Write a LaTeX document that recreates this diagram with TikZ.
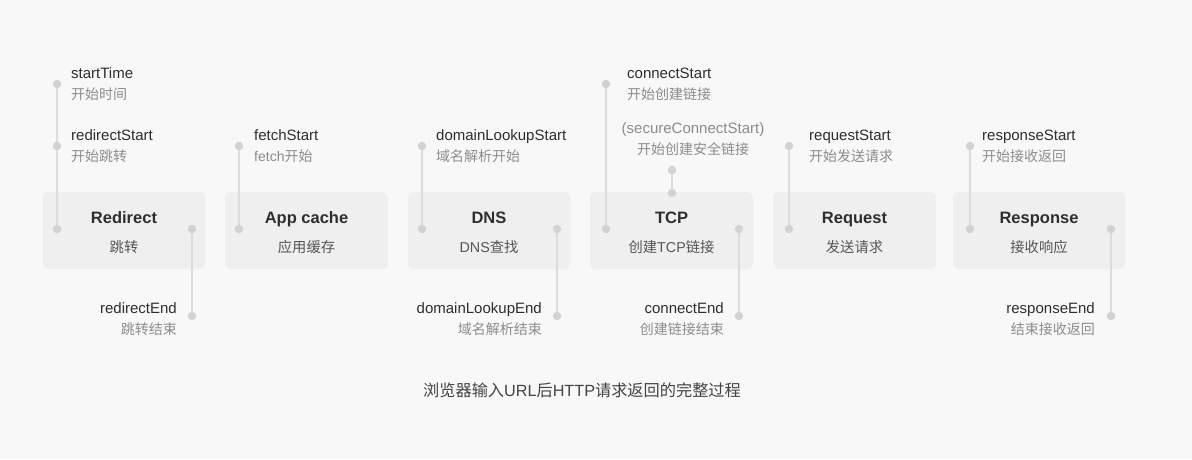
\documentclass[tikz,border=0pt]{standalone}
\usepackage{fontspec}
\setmainfont{Liberation Sans}
\newfontfamily\cjk{Noto Sans CJK SC}
\definecolor{bgc}{HTML}{F8F8F8}
\definecolor{boxfill}{HTML}{EFEFEF}
\definecolor{dotc}{HTML}{D2D2D2}
\definecolor{linec}{HTML}{DCDCDC}
\definecolor{ink}{HTML}{2E2E2E}
\definecolor{subink}{HTML}{555555}
\definecolor{noteink}{HTML}{8C8C8C}
\tikzset{
	stage/.style={fill=boxfill, rounded corners=6pt, minimum height=77pt, inner sep=0pt},
	dot/.style={circle, fill=dotc, minimum size=8.5pt, inner sep=0pt},
	tick/.style={draw=linec, line width=1.4pt},
	stagetitle/.style={inner sep=0pt, anchor=base, text=ink, font=\fontsize{16.5}{19}\selectfont\bfseries},
	stagesub/.style={inner sep=0pt, text=subink, font=\fontsize{14.3}{17}\selectfont\cjk},
	evname/.style={inner sep=0pt, text=ink, font=\fontsize{15}{18}\selectfont},
	cnname/.style={inner sep=0pt, text=noteink, font=\fontsize{14}{17}\selectfont\cjk}}

\begin{document}
\begin{tikzpicture}[x=1pt,y=-1pt]
\fill[bgc] (0,0) rectangle (1192,459);
\useasboundingbox (0,0) rectangle (1192,459);

% stages
\foreach \n/\cx/\w/\t/\s in {
	redirect/124/162/Redirect/跳转,
	appcache/306.5/163/App cache/应用缓存,
	dns/489/162/DNS/{{\rmfamily DNS}查找},
	tcp/671.5/163/TCP/{创建{\rmfamily TCP}链接},
	request/854.5/163/Request/发送请求,
	response/1039/172/Response/接收响应}
{
	\node[stage, minimum width=\w pt] (\n) at (\cx,230.5) {};
	\node[stagetitle] (\n-t) at (\cx,223.5) {\t};
	\node[stagesub] (\n-s) at (\cx,247) {\s};
}

% timing points
\foreach \n/\px/\py in {
	startTime-d/57/84, redirectStart-d/57/146, redirect-l/57/229,
	redirect-r/192/229, redirectEnd-d/192/316,
	fetchStart-d/239/146, appcache-l/239/229,
	domainLookupStart-d/422/146, dns-l/422/229, dns-r/557/229, domainLookupEnd-d/557/316,
	connectStart-d/606/84, tcp-l/606/229, secure-d/672/170, tcp-top/672/193,
	tcp-r/739/229, connectEnd-d/739/316,
	requestStart-d/789/146, request-l/789/229,
	responseStart-d/970/146, response-l/970/229, response-r/1111/229, responseEnd-d/1111/316}
	\node[dot] (\n) at (\px,\py) {};

\foreach \a/\b in {
	startTime-d/redirectStart-d, redirectStart-d/redirect-l, redirect-r/redirectEnd-d,
	fetchStart-d/appcache-l,
	domainLookupStart-d/dns-l, dns-r/domainLookupEnd-d,
	connectStart-d/tcp-l, secure-d/tcp-top, tcp-r/connectEnd-d,
	requestStart-d/request-l,
	responseStart-d/response-l, response-r/responseEnd-d}
	\draw[tick] (\a) -- (\b);

% start labels
\foreach \n/\px/\py/\zh in {
	startTime/71/73/开始时间,
	redirectStart/71/135/开始跳转,
	fetchStart/254/135/{{\rmfamily fetch}开始},
	domainLookupStart/436/135/域名解析开始,
	connectStart/627/73/开始创建链接,
	requestStart/809/135/开始发送请求,
	responseStart/982/135/开始接收返回}
{
	\node[evname, anchor=base west] (\n-en) at (\px,\py+5) {\n};
	\node[cnname, anchor=west] (\n-zh) at (\px,\py+21) {\zh};
}
\node[evname, anchor=base, text=noteink] (secureConnectStart-en) at (693,133) {(secureConnectStart)};
\node[cnname] (secureConnectStart-zh) at (693,149) {开始创建安全链接};

% end labels
\foreach \n/\px/\zh in {
	redirectEnd/177/跳转结束,
	domainLookupEnd/542/域名解析结束,
	connectEnd/724/创建链接结束,
	responseEnd/1095/结束接收返回}
{
	\node[evname, anchor=base east] (\n-en) at (\px,313) {\n};
	\node[cnname, anchor=east] (\n-zh) at (\px,329) {\zh};
}

\node[inner sep=0pt, text=ink!90, font=\fontsize{16.2}{19}\selectfont\cjk] (caption) at (582,390)
	{浏览器输入{\rmfamily URL}后{\rmfamily HTTP}请求返回的完整过程};
\end{tikzpicture}
\end{document}
